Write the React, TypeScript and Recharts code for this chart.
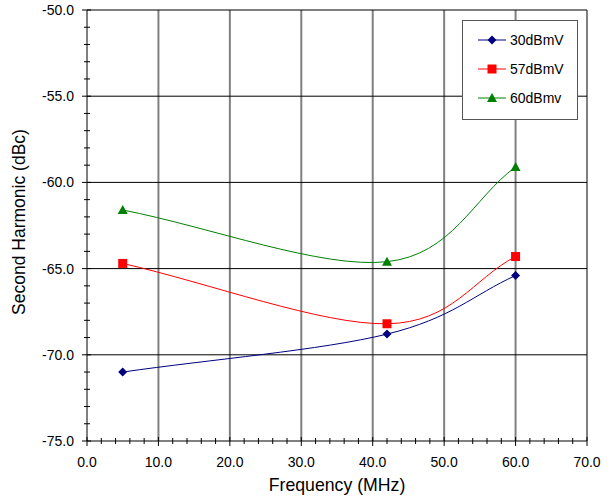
import React from "react";
import { LineChart, Line, XAxis, YAxis, ReferenceLine, Label } from "recharts";

// frequency points (MHz) and 2nd harmonic levels (dBc) per input level
const freqs = [5, 42, 60];
const h30dBmV = [-71.0, -68.8, -65.4];
const h57dBmV = [-64.7, -68.2, -64.3];
const h60dBmv = [-61.6, -64.6, -59.1];

const xMinorTicks = Array.from({ length: 36 }, (_, i) => i * 2);
const yMinorTicks = Array.from({ length: 26 }, (_, i) => -75 + i);
const xGrid = [10, 20, 30, 40, 50, 60, 70];
const yGrid = [-50, -55, -60, -65, -70];

const data = freqs.map((f, i) => ({
  f,
  a: h30dBmV[i],
  b: h57dBmV[i],
  c: h60dBmv[i],
}));

const FONT = "'Liberation Sans', Arial, sans-serif";

// Excel-style smoothed line (catmull-rom like bezier, mirrored phantom points at the ends)
const excelSmooth = (context: any) => {
  let pts: [number, number][] = [];
  return {
    areaStart() {},
    areaEnd() {},
    lineStart() {
      pts = [];
    },
    point(x: number, y: number) {
      pts.push([+x, +y]);
    },
    lineEnd() {
      const n = pts.length;
      if (!n) return;
      context.moveTo(pts[0][0], pts[0][1]);
      if (n < 2) return;
      const first: [number, number] = [2 * pts[0][0] - pts[1][0], 2 * pts[0][1] - pts[1][1]];
      const last: [number, number] = [2 * pts[n - 1][0] - pts[n - 2][0], 2 * pts[n - 1][1] - pts[n - 2][1]];
      const get = (i: number) => (i < 0 ? first : i >= n ? last : pts[i]);
      const t = 1 / 6;
      for (let i = 0; i < n - 1; i++) {
        const p0 = get(i - 1);
        const p1 = pts[i];
        const p2 = pts[i + 1];
        const p3 = get(i + 2);
        context.bezierCurveTo(
          p1[0] + (p2[0] - p0[0]) * t,
          p1[1] + (p2[1] - p0[1]) * t,
          p2[0] - (p3[0] - p1[0]) * t,
          p2[1] - (p3[1] - p1[1]) * t,
          p2[0],
          p2[1]
        );
      }
    },
  };
};

const XTick = (props: any) => {
  const { x, y, payload } = props;
  const major = payload.value % 10 === 0;
  return (
    <g>
      <line x1={x} x2={x} y1={y - (major ? 4 : 3)} y2={y + (major ? 5 : 3)} stroke="#000" />
      {major && (
        <text x={x} y={y + 26} textAnchor="middle" fontSize={14} fontFamily={FONT} fill="#000">
          {payload.value.toFixed(1)}
        </text>
      )}
    </g>
  );
};

const YTick = (props: any) => {
  const { x, y, payload } = props;
  const major = payload.value % 5 === 0;
  return (
    <g>
      <line x1={x - (major ? 5 : 3)} x2={x + (major ? 4 : 3)} y1={y} y2={y} stroke="#000" />
      {major && (
        <text x={x - 13} y={y + 5} textAnchor="end" fontSize={14} fontFamily={FONT} fill="#000">
          {payload.value.toFixed(1)}
        </text>
      )}
    </g>
  );
};

const Diamond = (props: any) => {
  const { cx, cy } = props;
  if (cx == null || cy == null) return null;
  return <polygon points={`${cx},${cy - 4.5} ${cx + 4.5},${cy} ${cx},${cy + 4.5} ${cx - 4.5},${cy}`} fill="#000080" />;
};

const Square = (props: any) => {
  const { cx, cy } = props;
  if (cx == null || cy == null) return null;
  return <rect x={cx - 4.5} y={cy - 4.5} width={9} height={9} fill="#ff0000" />;
};

const Triangle = (props: any) => {
  const { cx, cy } = props;
  if (cx == null || cy == null) return null;
  return <polygon points={`${cx},${cy - 5} ${cx + 5},${cy + 4} ${cx - 5},${cy + 4}`} fill="#008000" />;
};

const legendItems = [
  { name: "30dBmV", color: "#000080", mark: "d" },
  { name: "57dBmV", color: "#ff0000", mark: "s" },
  { name: "60dBmv", color: "#008000", mark: "t" },
];

export default function App() {
  return (
    <div style={{ position: "absolute", left: 0, top: 0, width: 613, height: 497, background: "#fff" }}>
      <LineChart width={613} height={497} data={data} margin={{ top: 10, right: 26, bottom: 0, left: 0 }}>
        {xGrid.map((v) => (
          <ReferenceLine key={"x" + v} x={v} stroke="#808080" strokeWidth={2} />
        ))}
        {yGrid.map((v) => (
          <ReferenceLine key={"y" + v} y={v} stroke="#000" strokeWidth={1} />
        ))}
        <XAxis
          type="number"
          dataKey="f"
          domain={[0, 70]}
          ticks={xMinorTicks}
          interval={0}
          height={56}
          tickSize={0}
          tickMargin={0}
          tickLine={false}
          axisLine={{ stroke: "#000" }}
          tick={<XTick />}
        >
          <Label
            content={({ viewBox }: any) => (
              <text
                x={viewBox.x + viewBox.width / 2}
                y={viewBox.y + 50}
                textAnchor="middle"
                fontSize={17.7}
                fontFamily={FONT}
                fill="#000"
              >
                Frequency (MHz)
              </text>
            )}
          />
        </XAxis>
        <YAxis
          type="number"
          domain={[-75, -50]}
          ticks={yMinorTicks}
          interval={0}
          width={87}
          tickSize={0}
          tickMargin={0}
          tickLine={false}
          axisLine={{ stroke: "#000" }}
          tick={<YTick />}
        >
          <Label
            content={({ viewBox }: any) => {
              const cx = viewBox.x + 25;
              const cy = viewBox.y + 212;
              return (
                <text
                  x={cx}
                  y={cy}
                  transform={`rotate(-90 ${cx} ${cy})`}
                  textAnchor="middle"
                  fontSize={17.5}
                  fontFamily={FONT}
                  fill="#000"
                >
                  Second Harmonic (dBc)
                </text>
              );
            }}
          />
        </YAxis>
        <Line type={excelSmooth as any} dataKey="a" stroke="#000080" strokeWidth={1} dot={<Diamond />} isAnimationActive={false} />
        <Line type={excelSmooth as any} dataKey="b" stroke="#ff0000" strokeWidth={1} dot={<Square />} isAnimationActive={false} />
        <Line type={excelSmooth as any} dataKey="c" stroke="#008000" strokeWidth={1} dot={<Triangle />} isAnimationActive={false} />
      </LineChart>
      <div
        style={{
          position: "absolute",
          left: 462,
          top: 20,
          width: 114,
          height: 98,
          background: "#fff",
          border: "1px solid #555",
          fontFamily: FONT,
          fontSize: 14,
        }}
      >
        {legendItems.map((it, i) => (
          <div key={it.name} style={{ position: "absolute", left: 15, top: 9 + i * 29, height: 20, display: "flex", alignItems: "center" }}>
            <svg width={29} height={12}>
              <line x1={0} x2={28} y1={6} y2={6} stroke={it.color} />
              {it.mark === "d" && <polygon points="14,1.5 18.5,6 14,10.5 9.5,6" fill={it.color} />}
              {it.mark === "s" && <rect x={9.5} y={1.5} width={9} height={9} fill={it.color} />}
              {it.mark === "t" && <polygon points="14,1 19,10 9,10" fill={it.color} />}
            </svg>
            <span style={{ marginLeft: 3 }}>{it.name}</span>
          </div>
        ))}
      </div>
    </div>
  );
}
